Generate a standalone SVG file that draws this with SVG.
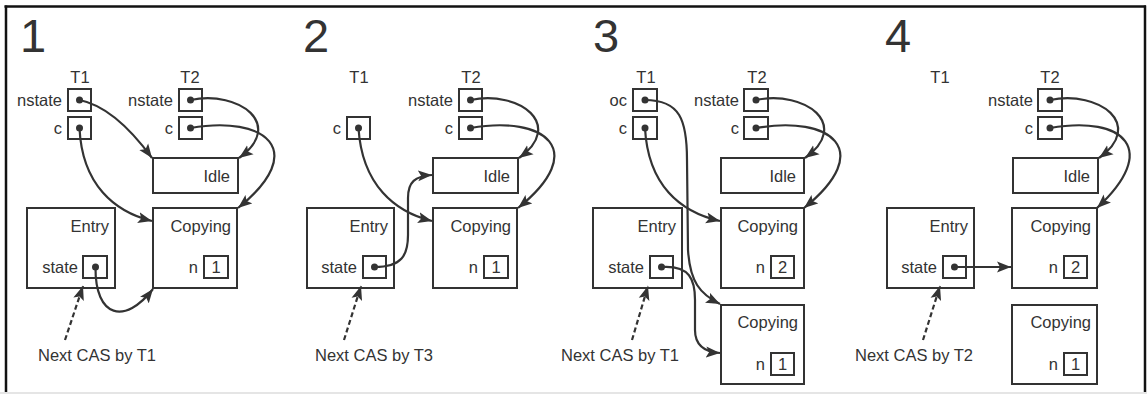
<svg xmlns="http://www.w3.org/2000/svg" width="1147" height="394" viewBox="0 0 1147 394">
<style>
.box{fill:#fff;stroke:#333;stroke-width:2}
.t{font-family:"Liberation Sans",Arial,sans-serif;font-size:16.5px;fill:#333}
.r{text-anchor:end}
.m{text-anchor:middle}
.big{font-size:47px}
.e{fill:none;stroke:#333;stroke-width:2.2;marker-end:url(#ah)}
.d{stroke-dasharray:5,3}
.dot{fill:#333}
</style>
<defs>
<marker id="ah" markerUnits="userSpaceOnUse" markerWidth="15" markerHeight="12" refX="14" refY="6" orient="auto">
<path d="M0,0.5 L14,6 L0,11.5 L3,6 z" fill="#333"/>
</marker>
</defs>
<rect width="1147" height="394" fill="#fff"/>
<g id="frame">
<line x1="4.5" y1="6.5" x2="1146" y2="6.5" stroke="#111" stroke-width="2.5"/>
<line x1="6" y1="5.5" x2="6" y2="392" stroke="#111" stroke-width="2.5"/>
<line x1="1145" y1="5.5" x2="1145" y2="392" stroke="#111" stroke-width="2.5"/>
<line x1="0" y1="393" x2="1147" y2="393" stroke="#ddd" stroke-width="1.5"/>
</g>

<!-- Panel 1 -->
<g id="p1">
<text class="t big" x="20" y="52">1</text>
<text class="t m" x="80" y="83">T1</text>
<text class="t m" x="190" y="83">T2</text>
<g id="p1-t1-nstate"><rect class="box" x="68" y="89" width="23" height="22"/><circle class="dot" cx="79.5" cy="100" r="3.5"/><text class="t r" x="62" y="106">nstate</text></g>
<g id="p1-t1-c"><rect class="box" x="68" y="117" width="23" height="22"/><circle class="dot" cx="79.5" cy="128" r="3.5"/><text class="t r" x="62" y="134">c</text></g>
<g id="p1-t2-nstate"><rect class="box" x="179" y="89" width="23" height="22"/><circle class="dot" cx="190.5" cy="100" r="3.5"/><text class="t r" x="173" y="106">nstate</text></g>
<g id="p1-t2-c"><rect class="box" x="179" y="117" width="23" height="22"/><circle class="dot" cx="190.5" cy="128" r="3.5"/><text class="t r" x="173" y="134">c</text></g>
<g id="p1-idle"><rect class="box" x="153" y="158" width="85" height="35"/><text class="t r" x="230" y="182">Idle</text></g>
<g id="p1-copying"><rect class="box" x="153" y="208" width="84" height="80"/><text class="t r" x="231" y="232">Copying</text><text class="t r" x="198" y="273">n</text><rect class="box" x="204" y="256" width="24" height="22"/><text class="t m" x="216" y="273">1</text></g>
<g id="p1-entry"><rect class="box" x="27" y="208" width="88" height="80"/><text class="t r" x="109" y="232">Entry</text><text class="t r" x="78" y="273">state</text><rect class="box" x="83" y="256" width="24" height="22"/><circle class="dot" cx="95.5" cy="267" r="3.5"/></g>
<text class="t" x="38" y="361">Next CAS by T1</text>
</g>

<!-- Panel 2 -->
<g id="p2">
<text class="t big" x="303" y="52">2</text>
<text class="t m" x="359" y="83">T1</text>
<text class="t m" x="471" y="83">T2</text>
<g id="p2-t1-c"><rect class="box" x="347" y="117" width="23" height="22"/><circle class="dot" cx="358.5" cy="128" r="3.5"/><text class="t r" x="341" y="134">c</text></g>
<g id="p2-t2-nstate"><rect class="box" x="459" y="89" width="23" height="22"/><circle class="dot" cx="470.5" cy="100" r="3.5"/><text class="t r" x="453" y="106">nstate</text></g>
<g id="p2-t2-c"><rect class="box" x="459" y="117" width="23" height="22"/><circle class="dot" cx="470.5" cy="128" r="3.5"/><text class="t r" x="453" y="134">c</text></g>
<g id="p2-idle"><rect class="box" x="433" y="158" width="85" height="35"/><text class="t r" x="510" y="182">Idle</text></g>
<g id="p2-copying"><rect class="box" x="433" y="208" width="84" height="80"/><text class="t r" x="511" y="232">Copying</text><text class="t r" x="478" y="273">n</text><rect class="box" x="484" y="256" width="24" height="22"/><text class="t m" x="496" y="273">1</text></g>
<g id="p2-entry"><rect class="box" x="307" y="208" width="87" height="80"/><text class="t r" x="388" y="232">Entry</text><text class="t r" x="357" y="273">state</text><rect class="box" x="363" y="256" width="23" height="22"/><circle class="dot" cx="374.5" cy="267" r="3.5"/></g>
<text class="t" x="315" y="361">Next CAS by T3</text>
</g>

<!-- Panel 3 -->
<g id="p3">
<text class="t big" x="593" y="52">3</text>
<text class="t m" x="646" y="83">T1</text>
<text class="t m" x="757" y="83">T2</text>
<g id="p3-t1-oc"><rect class="box" x="633" y="89" width="24" height="22"/><circle class="dot" cx="645" cy="100" r="3.5"/><text class="t r" x="627" y="106">oc</text></g>
<g id="p3-t1-c"><rect class="box" x="633" y="117" width="24" height="22"/><circle class="dot" cx="645" cy="128" r="3.5"/><text class="t r" x="627" y="134">c</text></g>
<g id="p3-t2-nstate"><rect class="box" x="744" y="89" width="24" height="22"/><circle class="dot" cx="756" cy="100" r="3.5"/><text class="t r" x="739" y="106">nstate</text></g>
<g id="p3-t2-c"><rect class="box" x="744" y="117" width="24" height="22"/><circle class="dot" cx="756" cy="128" r="3.5"/><text class="t r" x="739" y="134">c</text></g>
<g id="p3-idle"><rect class="box" x="721" y="158" width="83" height="35"/><text class="t r" x="796" y="182">Idle</text></g>
<g id="p3-copying2"><rect class="box" x="721" y="208" width="83" height="80"/><text class="t r" x="798" y="232">Copying</text><text class="t r" x="765" y="273">n</text><rect class="box" x="771" y="256" width="23" height="22"/><text class="t m" x="782.5" y="273">2</text></g>
<g id="p3-copying1"><rect class="box" x="721" y="305" width="83" height="79"/><text class="t r" x="798" y="328">Copying</text><text class="t r" x="765" y="370">n</text><rect class="box" x="771" y="353" width="23" height="22"/><text class="t m" x="782.5" y="370">1</text></g>
<g id="p3-entry"><rect class="box" x="593" y="208" width="89" height="80"/><text class="t r" x="676" y="232">Entry</text><text class="t r" x="644" y="273">state</text><rect class="box" x="650" y="256" width="23" height="22"/><circle class="dot" cx="661.5" cy="267" r="3.5"/></g>
<text class="t" x="561" y="361">Next CAS by T1</text>
</g>

<!-- Panel 4 -->
<g id="p4">
<text class="t big" x="885" y="52">4</text>
<text class="t m" x="940" y="83">T1</text>
<text class="t m" x="1050" y="83">T2</text>
<g id="p4-t2-nstate"><rect class="box" x="1038" y="89" width="24" height="22"/><circle class="dot" cx="1050" cy="100" r="3.5"/><text class="t r" x="1033" y="106">nstate</text></g>
<g id="p4-t2-c"><rect class="box" x="1038" y="117" width="24" height="22"/><circle class="dot" cx="1050" cy="128" r="3.5"/><text class="t r" x="1033" y="134">c</text></g>
<g id="p4-idle"><rect class="box" x="1013" y="158" width="85" height="35"/><text class="t r" x="1090" y="182">Idle</text></g>
<g id="p4-copying2"><rect class="box" x="1012" y="208" width="85" height="80"/><text class="t r" x="1091" y="232">Copying</text><text class="t r" x="1058" y="273">n</text><rect class="box" x="1064" y="256" width="23" height="22"/><text class="t m" x="1075.5" y="273">2</text></g>
<g id="p4-copying1"><rect class="box" x="1012" y="305" width="85" height="79"/><text class="t r" x="1091" y="328">Copying</text><text class="t r" x="1058" y="370">n</text><rect class="box" x="1064" y="353" width="23" height="22"/><text class="t m" x="1075.5" y="370">1</text></g>
<g id="p4-entry"><rect class="box" x="887" y="208" width="87" height="80"/><text class="t r" x="968" y="232">Entry</text><text class="t r" x="937" y="273">state</text><rect class="box" x="943" y="256" width="23" height="22"/><circle class="dot" cx="954.5" cy="267" r="3.5"/></g>
<text class="t" x="855" y="361">Next CAS by T2</text>
</g>

<g id="connectors">
<!-- panel 1 -->
<path class="e" d="M79.5,100 C105,105 130,128 152,158"/>
<path class="e" d="M79.5,128 C82,185 115,212 152,221"/>
<path class="e" d="M190.5,100 C240,90 285,125 239,158"/>
<path class="e" d="M190.5,128 C265,115 310,150 238,208"/>
<path class="e" d="M95.5,267 C95,318 125,325 153,289"/>
<path class="e d" d="M65,340 L83,286"/>
<!-- panel 2 -->
<path class="e" d="M358.5,128 C362,185 395,212 432,221"/>
<path class="e" d="M374.5,267 C402,267 408,255 408,235 L408,198 C408,182 415,176 432,175"/>
<path class="e" d="M470.5,100 C520,90 565,125 519,158"/>
<path class="e" d="M470.5,128 C545,115 590,150 518,208"/>
<path class="e d" d="M344,340 L361,286"/>
<!-- panel 3 -->
<path class="e" d="M645,100 C680,100 687,120 687,160 L688,250 C690,282 700,294 720,304"/>
<path class="e" d="M645,128 C648,185 680,212 720,221"/>
<path class="e" d="M661.5,267 C690,265 695,280 695,300 L695,330 C695,345 705,352 720,353"/>
<path class="e" d="M756,100 C806,90 851,125 805,158"/>
<path class="e" d="M756,128 C831,115 876,150 804,208"/>
<path class="e d" d="M632,340 L648,286"/>
<!-- panel 4 -->
<path class="e" d="M954.5,267 L1011,267"/>
<path class="e" d="M1050,100 C1100,90 1145,125 1099,158"/>
<path class="e" d="M1050,128 C1125,115 1160,150 1097,208"/>
<path class="e d" d="M923,340 L940,286"/>
</g>
</svg>
